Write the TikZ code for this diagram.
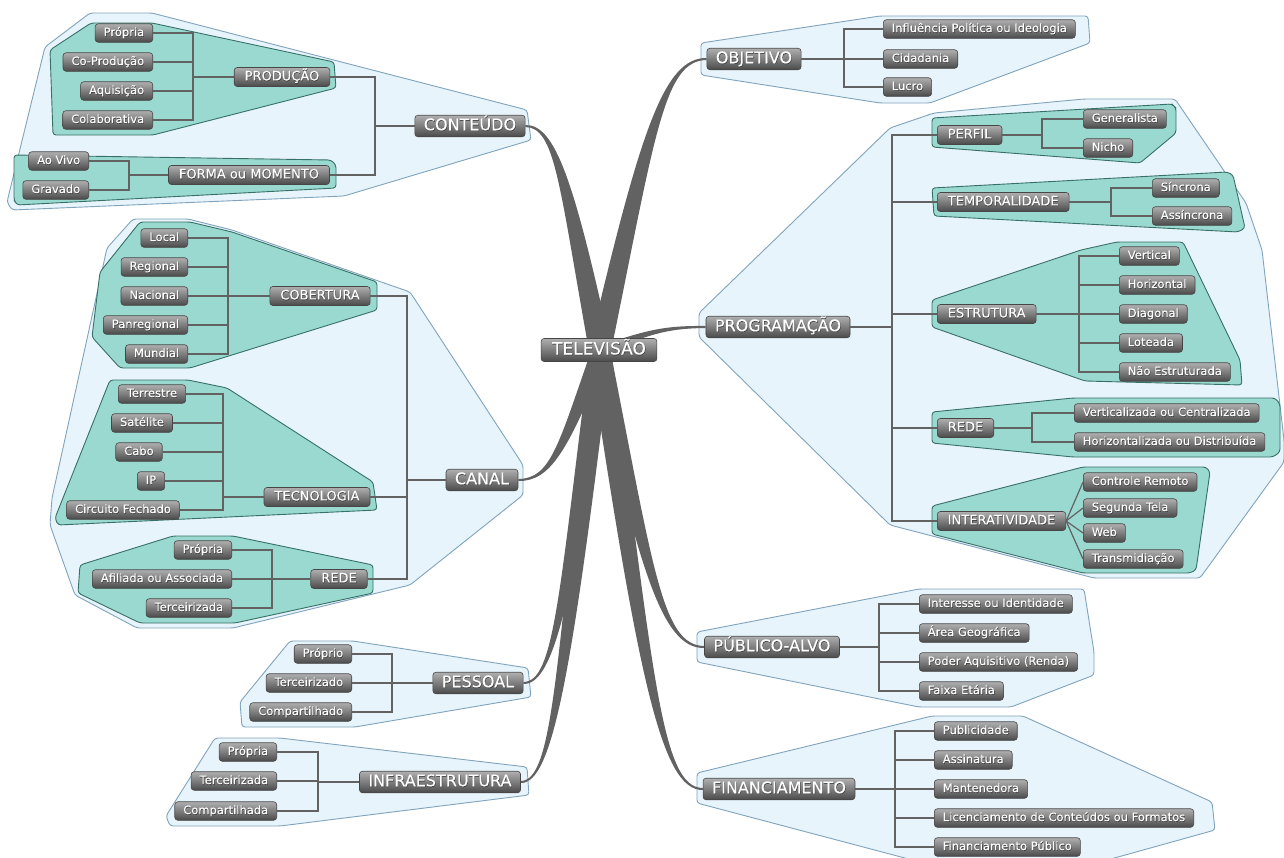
\documentclass[tikz,border=0pt]{standalone}
\usepackage{fontspec}
\setmainfont{DejaVu Sans}[RawFeature={embolden=0.5}]
\usetikzlibrary{calc}
\definecolor{hullfill}{RGB}{232,244,251}
\definecolor{hulldraw}{RGB}{128,164,188}
\definecolor{grpfill}{RGB}{154,217,207}
\definecolor{grpdraw}{RGB}{55,112,102}
\definecolor{conncol}{RGB}{98,98,98}
\definecolor{branchcol}{RGB}{98,98,98}
\definecolor{nodetop}{RGB}{175,175,175}
\definecolor{nodebot}{RGB}{74,74,74}
\definecolor{nodeborder}{RGB}{70,70,70}
\newcommand\tvs[1]{\makebox[0pt][l]{\raisebox{-0.7pt}{\kern0.4pt\color{black!80}#1}}#1}
\newcommand\tvbranch[2]{%
 \path let \p1=(tvc),\p2=(#1) in
   coordinate (K1) at ({(\x1)+0.45*((\x2)-(\x1))},{(\y1)+0.75*((\y2)-(\y1))})
   coordinate (K2) at ({(\x2)-0.4*((\x2)-(\x1))},{\y2});
 \fill[branchcol] let \p1=(tvc),\p2=(K1),\p3=(K2),\p4=(#1),
   \n1={veclen((\x2)-(\x1),(\y2)-(\y1))},
   \n2={-((\y2)-(\y1))/\n1*#2},
   \n3={((\x2)-(\x1))/\n1*#2},
   \n4={sign((\x4)-(\x1))*1.0} in
   ({(\x1)+(\n2)},{(\y1)+(\n3)}) .. controls ({(\x2)+0.7*(\n2)},{(\y2)+0.7*(\n3)}) and ({\x3},{(\y3)+1.5*(\n4)}) .. ({\x4},{(\y4)+(\n4)})
   -- ({\x4},{(\y4)-(\n4)}) .. controls ({\x3},{(\y3)-1.5*(\n4)}) and ({(\x2)-0.7*(\n2)},{(\y2)-0.7*(\n3)}) .. ({(\x1)-(\n2)},{(\y1)-(\n3)}) -- cycle;
}
\begin{document}
\begin{tikzpicture}[x=1pt,y=-1pt,
 tvbox/.style={rounded corners=3pt, draw=nodeborder, line width=0.6pt, top color=nodetop, bottom color=nodebot, text=white, inner ysep=0pt},
 tvleaf/.style={tvbox, font=\fontsize{11.5}{12}\selectfont, minimum height=18.5pt, inner xsep=8.5pt, text height=8.5pt, text depth=2.4pt},
 tvmid/.style={tvbox, font=\fontsize{13}{14}\selectfont, minimum height=19pt, inner xsep=10.5pt, text height=9.6pt, text depth=2.7pt},
 tvmain/.style={tvbox, font=\fontsize{16}{17}\selectfont, minimum height=21.5pt, inner xsep=9pt, text height=11.8pt, text depth=3.3pt},
 tvroot/.style={tvbox, font=\fontsize{17}{18}\selectfont, minimum height=23pt, inner xsep=11pt, text height=12.5pt, text depth=3.5pt},
 hull/.style={fill=hullfill, draw=hulldraw, line width=0.9pt, rounded corners=3pt},
 grp/.style={fill=grpfill, draw=grpdraw, line width=0.9pt, rounded corners=3pt},
 conn/.style={draw=conncol, line width=1.2pt}]
\useasboundingbox (0,0) rectangle (1284,857);
\clip (0,0) rectangle (1284,857);
\fill[white] (0,0) rectangle (1284,857);
% ---------- hulls ----------
\draw[hull] (90,13) -- (152,13) -- (527,110) -- (531,140) -- (344,196) -- (12,210) -- (7,202) -- (45,47) -- cycle;
\draw[grp] (50,50) -- (91,23) -- (152,23) -- (334,62) -- (336,88) -- (153,135) -- (53,135) -- cycle;
\draw[grp] (14,155) -- (331,160) -- (336,165) -- (336,188) -- (17,205) -- (14,200) -- cycle;
\draw[hull] (133,219) -- (188,219) -- (232,230) -- (410,292) -- (523,465) -- (523,495) -- (410,585) -- (233,628) -- (137,628) -- (75,595) -- (50,525) -- (52,498) -- (107,248) -- cycle;
\draw[grp] (140,222) -- (190,222) -- (232,232) -- (377,282) -- (377,310) -- (190,368) -- (120,368) -- (92,337) -- (100,272) -- cycle;
\draw[grp] (110,380) -- (188,380) -- (227,388) -- (373,482) -- (377,510) -- (58,525) -- (55,518) -- cycle;
\draw[grp] (173,536) -- (233,536) -- (373,565) -- (373,593) -- (235,623) -- (140,623) -- (78,593) -- (80,565) -- cycle;
\draw[hull] (290,641) -- (353,641) -- (528,668) -- (531,697) -- (355,727) -- (242,727) -- (240,702) -- cycle;
\draw[hull] (215,738) -- (280,738) -- (527,767) -- (529,795) -- (280,826) -- (170,826) -- (166,816) -- cycle;
\draw[hull] (701,43) -- (880,16) -- (1088,16) -- (1090,43) -- (930,103) -- (880,103) -- (701,75) -- cycle;
\draw[hull] (699,313) -- (890,128) -- (934,113) -- (1084,99) -- (1175,99) -- (1246,203) -- (1262,250) -- (1284,440) -- (1284,462) -- (1200,578) -- (1094,578) -- (890,525) -- (699,337) -- cycle;
\draw[grp] (932,118) -- (1172,104) -- (1176,108) -- (1176,133) -- (1140,163) -- (932,147) -- cycle;
\draw[grp] (932,188) -- (1227,172) -- (1233,175) -- (1245,228) -- (1238,232) -- (934,216) -- cycle;
\draw[grp] (932,300) -- (1081,250) -- (1117,242) -- (1183,242) -- (1240,360) -- (1242,385) -- (1085,381) -- (932,327) -- cycle;
\draw[grp] (932,412) -- (1073,398) -- (1275,398) -- (1280,404) -- (1280,452) -- (1273,457) -- (1073,457) -- (932,443) -- cycle;
\draw[grp] (932,506) -- (1083,467) -- (1206,467) -- (1210,472) -- (1196,570) -- (1190,573) -- (1083,573) -- (932,534) -- cycle;
\draw[hull] (697,632) -- (919,589) -- (1084,589) -- (1094,652) -- (1094,675) -- (1011,707) -- (919,707) -- (697,662) -- cycle;
\draw[hull] (697,773) -- (932,716) -- (1023,716) -- (1212,802) -- (1215,830) -- (1100,862) -- (920,862) -- (697,803) -- cycle;
% ---------- nodes: CONTEUDO ----------
\node[tvmain] (cont) at (470,126) {\tvs{CONTEÚDO}};
\node[tvmid] (prod) at (282,77) {\tvs{PRODUÇÃO}};
\node[tvleaf,anchor=east] (pr1) at (153,33) {\tvs{Própria}};
\node[tvleaf,anchor=east] (pr2) at (153,62) {\tvs{Co-Produção}};
\node[tvleaf,anchor=east] (pr3) at (153,91) {\tvs{Aquisição}};
\node[tvleaf,anchor=east] (pr4) at (153,120) {\tvs{Colaborativa}};
\node[tvmid] (forma) at (249,175) {\tvs{FORMA ou MOMENTO}};
\node[tvleaf,anchor=east] (fo1) at (89,161) {\tvs{Ao Vivo}};
\node[tvleaf,anchor=east] (fo2) at (89,190) {\tvs{Gravado}};
% CANAL
\node[tvmain] (canal) at (482,480) {\tvs{CANAL}};
\node[tvmid] (cob) at (320,296) {\tvs{COBERTURA}};
\node[tvleaf,anchor=east] (cb1) at (188,238) {\tvs{Local}};
\node[tvleaf,anchor=east] (cb2) at (188,267) {\tvs{Regional}};
\node[tvleaf,anchor=east] (cb3) at (188,296) {\tvs{Nacional}};
\node[tvleaf,anchor=east] (cb4) at (188,325) {\tvs{Panregional}};
\node[tvleaf,anchor=east] (cb5) at (188,354) {\tvs{Mundial}};
\node[tvmid] (tec) at (317,497) {\tvs{TECNOLOGIA}};
\node[tvleaf] (te1) at (152,394) {\tvs{Terrestre}};
\node[tvleaf] (te2) at (142,423) {\tvs{Satélite}};
\node[tvleaf] (te3) at (139,452) {\tvs{Cabo}};
\node[tvleaf] (te4) at (151,481) {\tvs{IP}};
\node[tvleaf] (te5) at (123,510) {\tvs{Circuito Fechado}};
\node[tvmid] (rdl) at (339,579) {\tvs{REDE}};
\node[tvleaf,anchor=east] (rl1) at (232,550) {\tvs{Própria}};
\node[tvleaf,anchor=east] (rl2) at (232,579) {\tvs{Afiliada ou Associada}};
\node[tvleaf,anchor=east] (rl3) at (232,608) {\tvs{Terceirizada}};
% PESSOAL
\node[tvmain] (pess) at (478,683) {\tvs{PESSOAL}};
\node[tvleaf,anchor=east] (ps1) at (352,654) {\tvs{Próprio}};
\node[tvleaf,anchor=east] (ps2) at (352,683) {\tvs{Terceirizado}};
\node[tvleaf,anchor=east] (ps3) at (352,712) {\tvs{Compartilhado}};
% INFRA
\node[tvmain] (infra) at (440,782) {\tvs{INFRAESTRUTURA}};
\node[tvleaf,anchor=east] (in1) at (277,752) {\tvs{Própria}};
\node[tvleaf,anchor=east] (in2) at (277,781) {\tvs{Terceirizada}};
\node[tvleaf,anchor=east] (in3) at (277,811) {\tvs{Compartilhada}};
% OBJETIVO
\node[tvmain] (obj) at (754,59) {\tvs{OBJETIVO}};
\node[tvleaf,anchor=west] (ob1) at (883,29) {\tvs{Influência Política ou Ideologia}};
\node[tvleaf,anchor=west] (ob2) at (883,59) {\tvs{Cidadania}};
\node[tvleaf,anchor=west] (ob3) at (883,87) {\tvs{Lucro}};
% PROGRAMACAO
\node[tvmain] (prog) at (778,327) {\tvs{PROGRAMAÇÃO}};
\node[tvmid,anchor=west] (perf) at (937,135) {\tvs{PERFIL}};
\node[tvleaf,anchor=west] (pf1) at (1083,119) {\tvs{Generalista}};
\node[tvleaf,anchor=west] (pf2) at (1083,148) {\tvs{Nicho}};
\node[tvmid,anchor=west] (temp) at (937,202) {\tvs{TEMPORALIDADE}};
\node[tvleaf,anchor=west] (tp1) at (1152,188) {\tvs{Síncrona}};
\node[tvleaf,anchor=west] (tp2) at (1152,216) {\tvs{Assíncrona}};
\node[tvmid,anchor=west] (estr) at (937,314) {\tvs{ESTRUTURA}};
\node[tvleaf,anchor=west] (es1) at (1119,256) {\tvs{Vertical}};
\node[tvleaf,anchor=west] (es2) at (1119,285) {\tvs{Horizontal}};
\node[tvleaf,anchor=west] (es3) at (1119,314) {\tvs{Diagonal}};
\node[tvleaf,anchor=west] (es4) at (1119,343) {\tvs{Loteada}};
\node[tvleaf,anchor=west] (es5) at (1119,372) {\tvs{Não Estruturada}};
\node[tvmid,anchor=west] (rdr) at (937,428) {\tvs{REDE}};
\node[tvleaf,anchor=west] (rr1) at (1074,413) {\tvs{Verticalizada ou Centralizada}};
\node[tvleaf,anchor=west] (rr2) at (1074,442) {\tvs{Horizontalizada ou Distribuída}};
\node[tvmid,anchor=west] (inter) at (937,521) {\tvs{INTERATIVIDADE}};
\node[tvleaf,anchor=west] (it1) at (1083,482) {\tvs{Controle Remoto}};
\node[tvleaf,anchor=west] (it2) at (1083,508) {\tvs{Segunda Tela}};
\node[tvleaf,anchor=west] (it3) at (1083,533) {\tvs{Web}};
\node[tvleaf,anchor=west] (it4) at (1083,559) {\tvs{Transmidiação}};
% PUBLICO
\node[tvmain] (pub) at (772,647) {\tvs{PÚBLICO-ALVO}};
\node[tvleaf,anchor=west] (pu1) at (919,604) {\tvs{Interesse ou Identidade}};
\node[tvleaf,anchor=west] (pu2) at (919,633) {\tvs{Área Geográfica}};
\node[tvleaf,anchor=west] (pu3) at (919,662) {\tvs{Poder Aquisitivo (Renda)}};
\node[tvleaf,anchor=west] (pu4) at (919,691) {\tvs{Faixa Etária}};
% FINANCIAMENTO
\node[tvmain] (fin) at (779,789) {\tvs{FINANCIAMENTO}};
\node[tvleaf,anchor=west] (fi1) at (934,731) {\tvs{Publicidade}};
\node[tvleaf,anchor=west] (fi2) at (934,760) {\tvs{Assinatura}};
\node[tvleaf,anchor=west] (fi3) at (934,789) {\tvs{Mantenedora}};
\node[tvleaf,anchor=west] (fi4) at (934,818) {\tvs{Licenciamento de Conteúdos ou Formatos}};
\node[tvleaf,anchor=west] (fi5) at (934,847) {\tvs{Financiamento Público}};
% ---------- connectors ----------
\coordinate (bprod) at (193,77);
\foreach \nm in {pr1,pr2,pr3,pr4} \draw[conn] (\nm.east) -| (bprod);
\draw[conn] (bprod) -- (prod.west);
\coordinate (bforma) at (129,175);
\foreach \nm in {fo1,fo2} \draw[conn] (\nm.east) -| (bforma);
\draw[conn] (bforma) -- (forma.west);
\coordinate (bcont) at (375,126);
\foreach \nm in {prod,forma} \draw[conn] (\nm.east) -| (bcont);
\draw[conn] (bcont) -- (cont.west);
\coordinate (bcob) at (228,296);
\foreach \nm in {cb1,cb2,cb3,cb4,cb5} \draw[conn] (\nm.east) -| (bcob);
\draw[conn] (bcob) -- (cob.west);
\coordinate (btec) at (223,497);
\foreach \nm in {te1,te2,te3,te4,te5} \draw[conn] (\nm.east) -| (btec);
\draw[conn] (btec) -- (tec.west);
\coordinate (brdl) at (272,579);
\foreach \nm in {rl1,rl2,rl3} \draw[conn] (\nm.east) -| (brdl);
\draw[conn] (brdl) -- (rdl.west);
\coordinate (bcanal) at (407,480);
\foreach \nm in {cob,tec,rdl} \draw[conn] (\nm.east) -| (bcanal);
\draw[conn] (bcanal) -- (canal.west);
\coordinate (bpess) at (392,683);
\foreach \nm in {ps1,ps2,ps3} \draw[conn] (\nm.east) -| (bpess);
\draw[conn] (bpess) -- (pess.west);
\coordinate (binfra) at (318,782);
\foreach \nm in {in1,in2,in3} \draw[conn] (\nm.east) -| (binfra);
\draw[conn] (binfra) -- (infra.west);
\coordinate (bobj) at (844,59);
\foreach \nm in {ob1,ob2,ob3} \draw[conn] (\nm.west) -| (bobj);
\draw[conn] (bobj) -- (obj.east);
\coordinate (bprog) at (892,327);
\foreach \nm in {perf,temp,estr,rdr,inter} \draw[conn] (\nm.west) -| (bprog);
\draw[conn] (bprog) -- (prog.east);
\coordinate (bperf) at (1042,135);
\foreach \nm in {pf1,pf2} \draw[conn] (\nm.west) -| (bperf);
\draw[conn] (bperf) -- (perf.east);
\coordinate (btemp) at (1111,202);
\foreach \nm in {tp1,tp2} \draw[conn] (\nm.west) -| (btemp);
\draw[conn] (btemp) -- (temp.east);
\coordinate (bestr) at (1079,314);
\foreach \nm in {es1,es2,es3,es4,es5} \draw[conn] (\nm.west) -| (bestr);
\draw[conn] (bestr) -- (estr.east);
\coordinate (brdr) at (1032,428);
\foreach \nm in {rr1,rr2} \draw[conn] (\nm.west) -| (brdr);
\draw[conn] (brdr) -- (rdr.east);
\foreach \nm in {it1,it2,it3,it4} \draw[conn] (inter.east) -- (\nm.west);
\coordinate (bpub) at (879,647);
\foreach \nm in {pu1,pu2,pu3,pu4} \draw[conn] (\nm.west) -| (bpub);
\draw[conn] (bpub) -- (pub.east);
\coordinate (bfin) at (895,789);
\foreach \nm in {fi1,fi2,fi3,fi4,fi5} \draw[conn] (\nm.west) -| (bfin);
\draw[conn] (bfin) -- (fin.east);
% ---------- branches ----------
\coordinate (tvc) at (600,350);
\tvbranch{cont.east}{11}
\tvbranch{canal.east}{8}
\tvbranch{pess.east}{10}
\tvbranch{infra.east}{11}
\tvbranch{obj.west}{11}
\tvbranch{prog.west}{4}
\tvbranch{pub.west}{10}
\tvbranch{fin.west}{11}
\node[tvroot] (tv) at (599,350) {\tvs{TELEVISÃO}};
\end{tikzpicture}
\end{document}
